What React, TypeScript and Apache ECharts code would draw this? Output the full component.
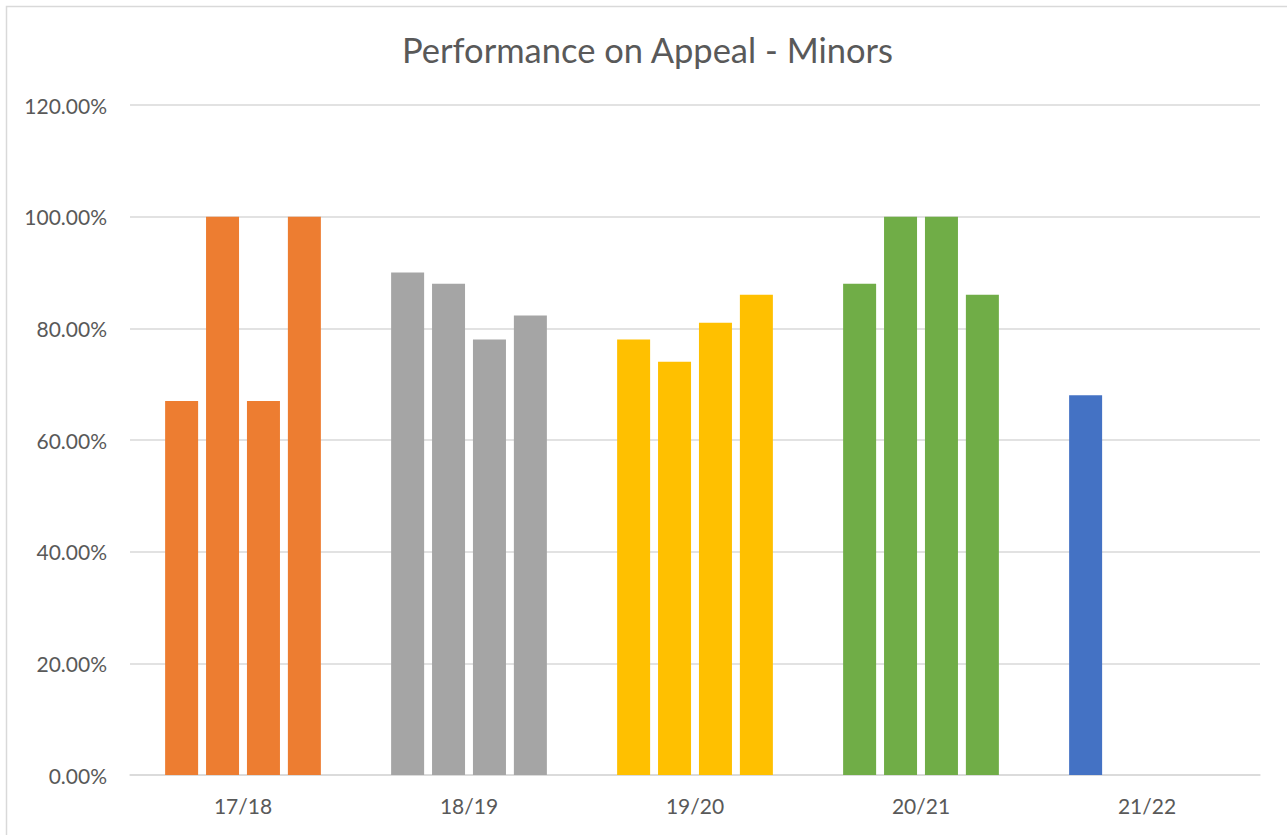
import React, { useEffect, useRef } from "react";
import * as echarts from "echarts";

const categories = ["17/18", "18/19", "19/20", "20/21", "21/22"];
const q1 = [67, 90, 78, 88, 68];
const q2 = [100, 88, 74, 100, null];
const q3 = [67, 78, 81, 100, null];
const q4 = [100, 82.3, 86, 86, null];
const categoryColors = ["#ED7D31", "#A5A5A5", "#FFC000", "#70AD47", "#4472C4"];
const yTicks = { min: 0, max: 120, interval: 20 };

const FONT = "Lato";

export default function App() {
  const ref = useRef<HTMLDivElement>(null);
  useEffect(() => {
    if (!ref.current) return;
    const chart = echarts.init(ref.current, null, { renderer: "svg" });
    const mk = (name: string, vals: (number | null)[]) => ({
      name,
      type: "bar",
      barWidth: 33,
      barGap: "24%",
      data: vals.map((v, i) => ({
        value: v,
        itemStyle: { color: categoryColors[i] },
      })),
    });
    chart.setOption({
      animation: false,
      backgroundColor: "#ffffff",
      textStyle: { fontFamily: FONT },
      title: {
        text: "Performance on Appeal - Minors",
        left: 397,
        top: 27,
        textStyle: {
          fontFamily: FONT,
          fontSize: 34.5,
          fontWeight: "normal",
          color: "#595959",
        },
      },
      graphic: [
        {
          type: "rect",
          shape: { x: 6.5, y: 6.5, width: 1400, height: 1000 },
          style: { fill: "none", stroke: "#d9d9d9", lineWidth: 1.5 },
          silent: true,
        },
      ],
      grid: { left: 130, right: 27, top: 105, bottom: 60, containLabel: false },
      xAxis: {
        type: "category",
        data: categories,
        axisLine: { lineStyle: { color: "#d9d9d9", width: 1.5 } },
        axisTick: { show: false },
        axisLabel: {
          color: "#595959",
          fontFamily: FONT,
          fontSize: 21,
          margin: 20,
        },
      },
      yAxis: {
        type: "value",
        min: yTicks.min,
        max: yTicks.max,
        interval: yTicks.interval,
        axisLine: { show: false },
        axisTick: { show: false },
        splitLine: { lineStyle: { color: "#d9d9d9", width: 1.5 } },
        axisLabel: {
          color: "#595959",
          fontFamily: FONT,
          fontSize: 21,
          margin: 23,
          formatter: (v: number) => v.toFixed(2) + "%",
        },
      },
      series: [mk("Q1", q1), mk("Q2", q2), mk("Q3", q3), mk("Q4", q4)],
    });
    return () => chart.dispose();
  }, []);
  return (
    <div
      ref={ref}
      style={{ position: "fixed", left: 0, top: 0, width: 1287, height: 835 }}
    />
  );
}
